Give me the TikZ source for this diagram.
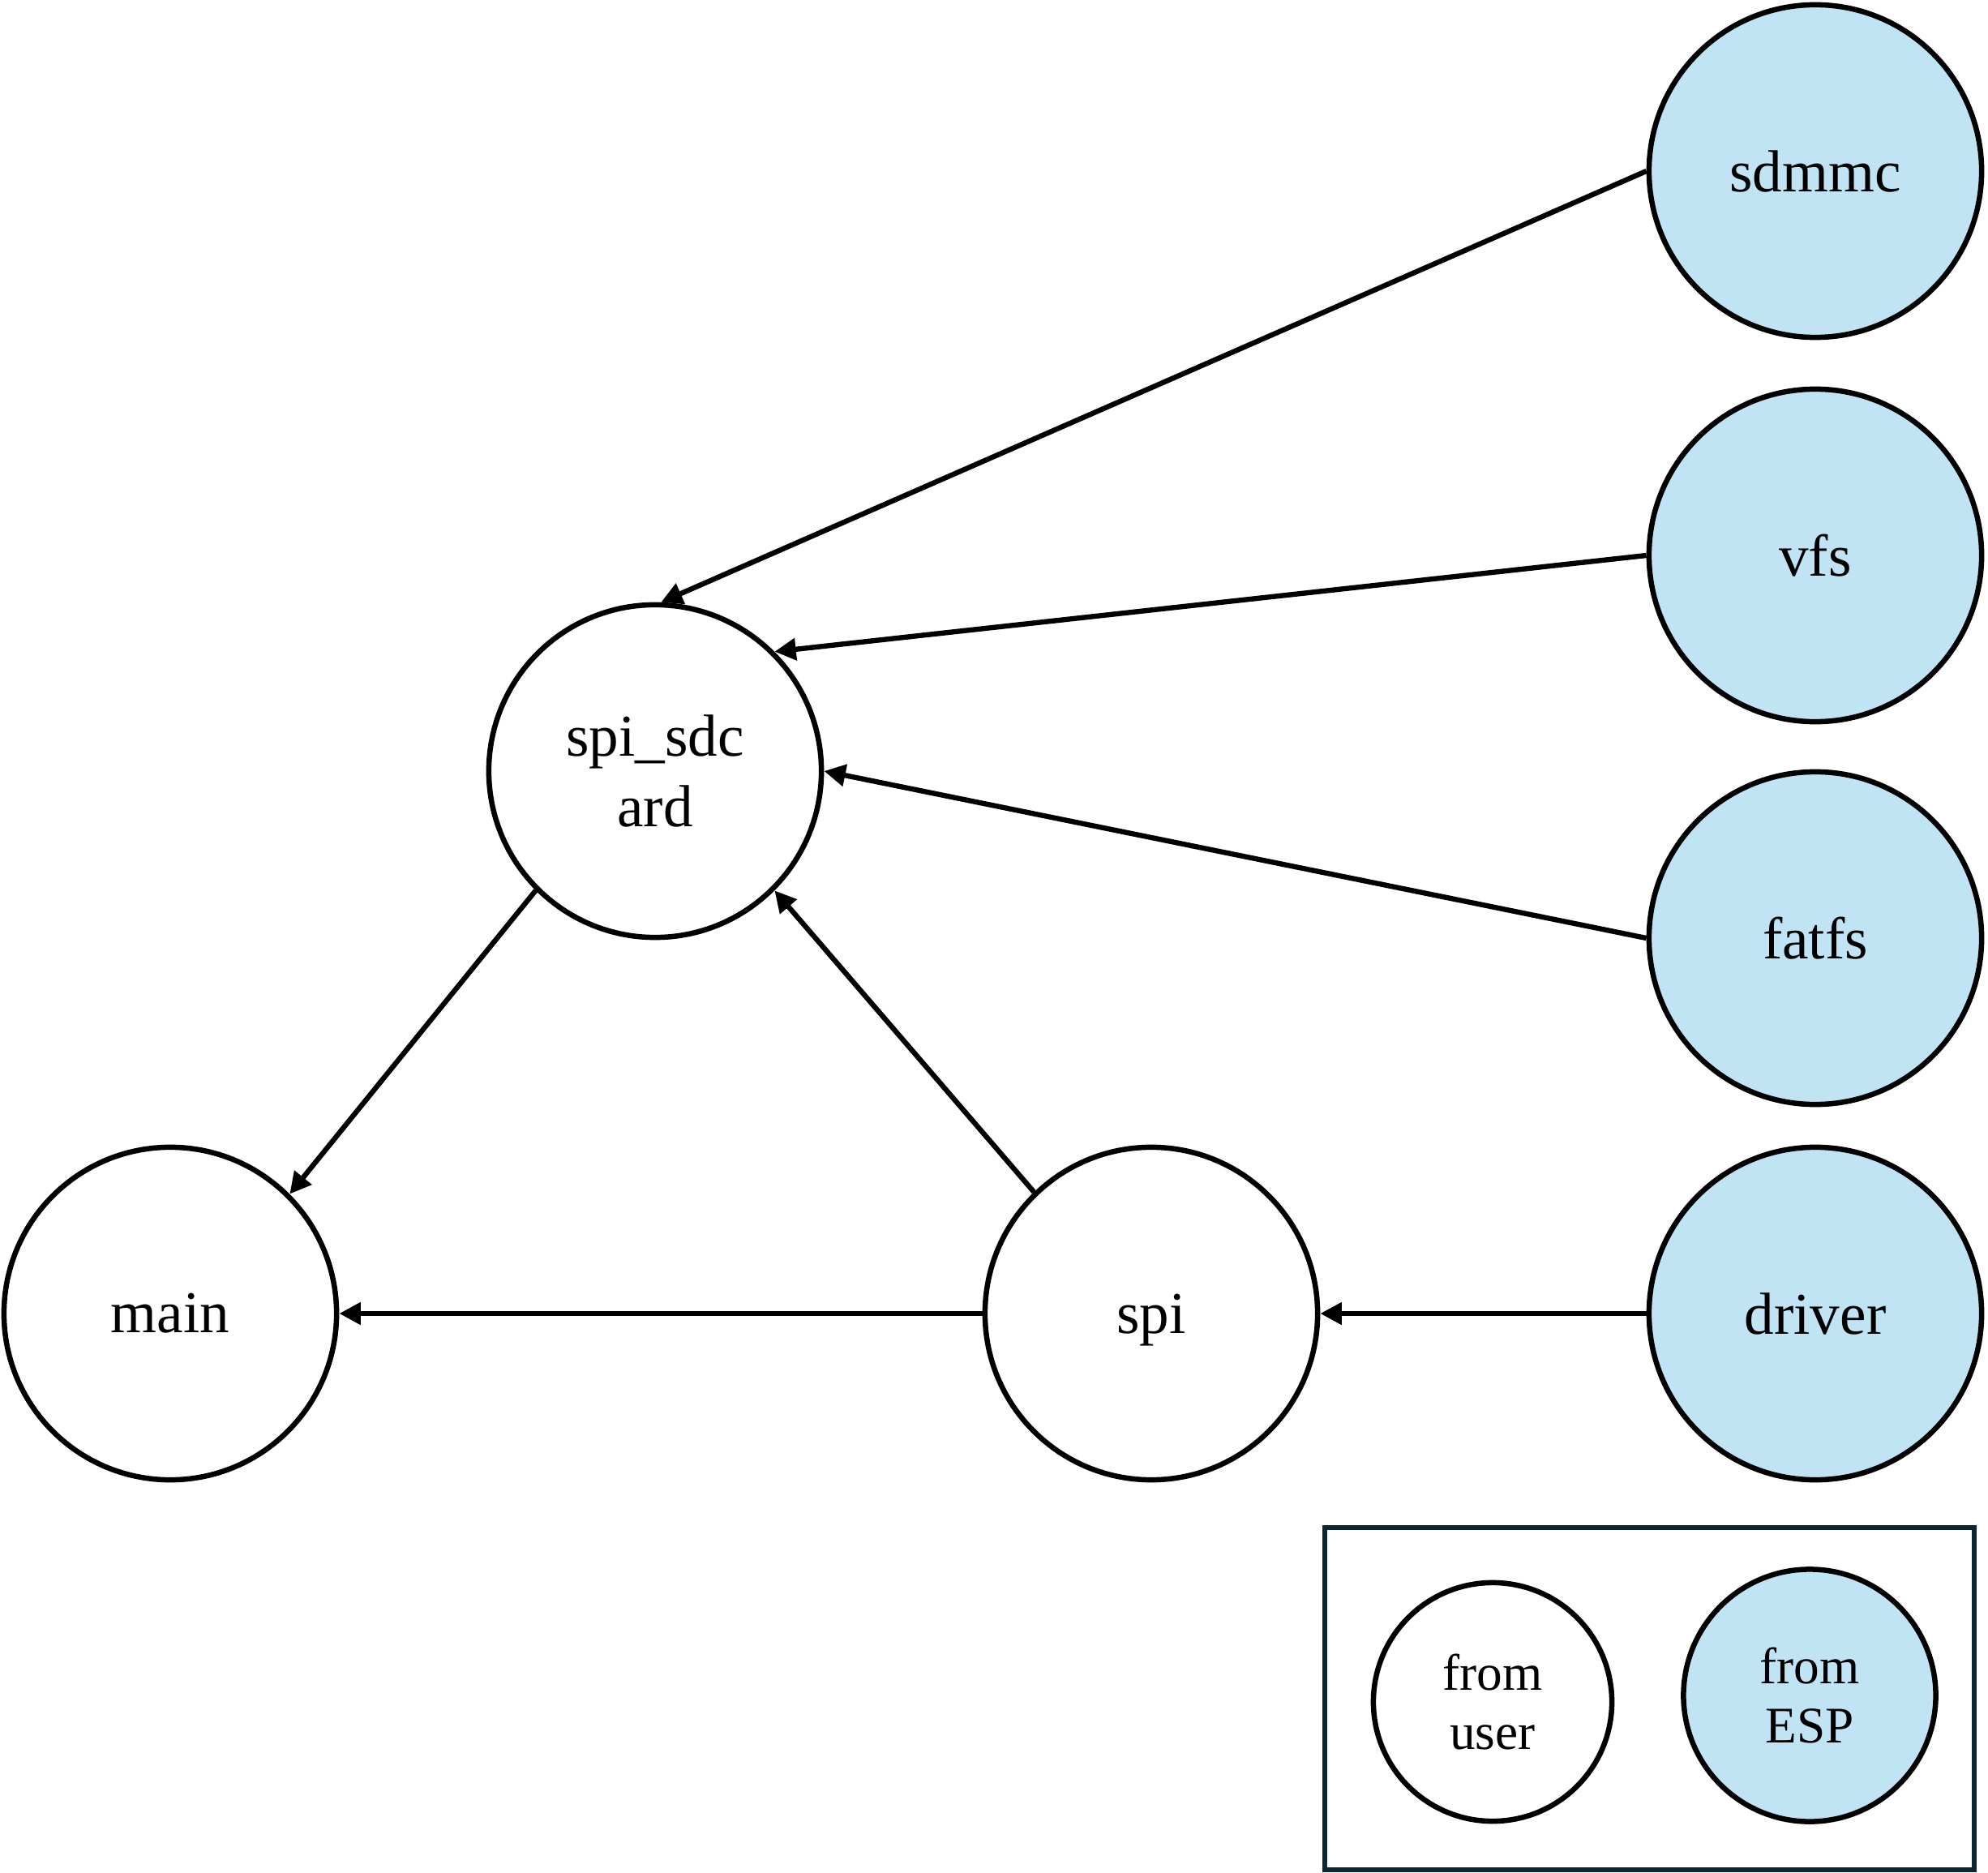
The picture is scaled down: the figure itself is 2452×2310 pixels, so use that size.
\documentclass[tikz,border=0pt]{standalone}
\usepackage{fontspec}
\setmainfont{Liberation Serif}
\usetikzlibrary{arrows.meta}
\definecolor{espblue}{HTML}{C1E4F5}
\definecolor{legendline}{HTML}{0D2633}
\begin{document}
\begin{tikzpicture}[x=0.01cm, y=-0.01cm,
  modnode/.style={draw, circle, line width=1.85pt, minimum size=4.1cm, inner sep=0pt, align=center, font=\fontsize{20.8}{24.5}\selectfont},
  espnode/.style={modnode, fill=espblue},
  legnode/.style={draw, circle, line width=1.85pt, inner sep=0pt, align=center, font=\fontsize{18}{20.8}\selectfont},
  dep/.style={line width=1.8pt, -{Triangle[length=7.5pt, width=7.5pt]}}]

  \useasboundingbox (0, 0) rectangle (2452, 2310);

  \node[espnode] (sdmmc) at (2239, 211) {sdmmc};
  \node[espnode] (vfs) at (2239, 685) {vfs};
  \node[espnode] (fatfs) at (2239, 1157) {fatfs};
  \node[espnode] (driver) at (2239, 1620) {driver};

  \node[modnode] (sdcard) at (808, 951) {spi\_sdc\\ard};
  \node[modnode] (main) at (210, 1620) {main};
  \node[modnode, text depth=0pt] (spi) at (1420, 1620) {spi};

  \draw[dep] (sdmmc.west) -- (sdcard.88);
  \draw[dep] (vfs.west) -- (sdcard.45);
  \draw[dep] (fatfs.west) -- (sdcard.east);
  \draw[dep] (sdcard.225) -- (main.45);
  \draw[dep] (spi.134) -- (sdcard.315);
  \draw[dep] (spi.west) -- (main.east);
  \draw[dep] (driver.west) -- (spi.east);

  % legend
  \draw[legendline, line width=1.85pt] (1634, 1884) rectangle (2435, 2306);
  \node[legnode, minimum size=2.94cm] (user) at (1841, 2099) {from\\user};
  \node[legnode, minimum size=3.11cm, fill=espblue] (esp) at (2232, 2091) {from\\ESP};
\end{tikzpicture}
\end{document}
